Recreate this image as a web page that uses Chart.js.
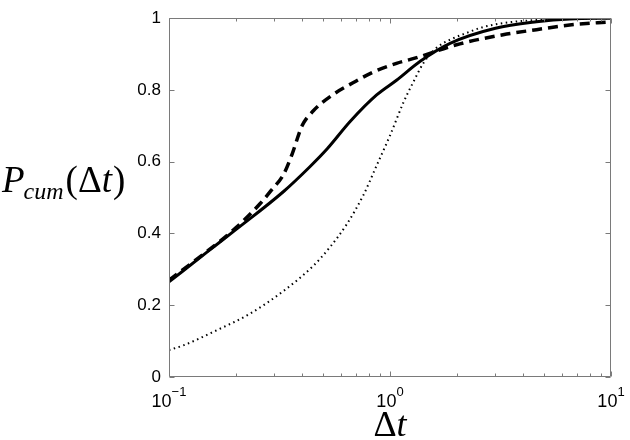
<!DOCTYPE html>
<html><head><meta charset="utf-8">
<script src="https://cdn.jsdelivr.net/npm/chart.js@4/dist/chart.umd.min.js"></script>
<style>html,body{margin:0;padding:0;background:#fff}#wrap{width:630px;height:440px;position:relative}</style>
</head><body><div id="wrap"><canvas id="c" width="630" height="440"></canvas></div>
<script>
// Solid curve
const solidX = [0.1, 0.15, 0.2, 0.33, 0.434, 0.52, 0.66, 0.87, 1.07, 1.37, 1.87, 3.0, 4.6, 6.5, 10];
const solidY = [0.265, 0.35, 0.41, 0.517, 0.586, 0.636, 0.712, 0.786, 0.827, 0.88, 0.93, 0.972, 0.99, 0.998, 1.0];
// Dashed curve
const dashX = [0.1, 0.15, 0.2, 0.26, 0.29, 0.33, 0.36, 0.40, 0.45, 0.555, 0.68, 0.84, 1.07, 1.32, 2.0, 3.25, 4.6, 6.5, 10];
const dashY = [0.27, 0.352, 0.415, 0.485, 0.52, 0.565, 0.62, 0.70, 0.742, 0.788, 0.82, 0.85, 0.874, 0.89, 0.926, 0.954, 0.968, 0.981, 0.99];
// Dotted curve
const dotX = [0.1, 0.116, 0.164, 0.232, 0.33, 0.45, 0.535, 0.636, 0.758, 0.871, 1.0, 1.15, 1.27, 1.42, 1.62, 1.87, 2.2, 2.63, 3.3, 5, 10];
const dotY = [0.075, 0.088, 0.13, 0.176, 0.24, 0.31, 0.362, 0.425, 0.507, 0.59, 0.673, 0.765, 0.82, 0.876, 0.917, 0.94, 0.958, 0.975, 0.987, 0.996, 1.0];

// Tick labels
const yTickValues = [0, 0.2, 0.4, 0.6, 0.8, 1];
const yTickLabels = ['0', '0.2', '0.4', '0.6', '0.8', '1'];
const xMajorValues = [0.1, 1, 10];
const xMajorBase = '10';
const xMajorExp = ['\u22121', '0', '1'];
const xMinorValues = [0.2,0.3,0.4,0.5,0.6,0.7,0.8,0.9,2,3,4,5,6,7,8,9];

function pts(xs, ys){ return xs.map((x,i)=>({x:x, y:ys[i]})); }

const AXIS = '#7a7a7a';
const SANS = '"Liberation Sans", Arial, sans-serif';
const SERIF = '"Liberation Serif", "DejaVu Serif", serif';

const decor = {
  id: 'decor',
  afterDraw(chart){
    const ctx = chart.ctx, a = chart.chartArea;
    const xs = chart.scales.x, ys = chart.scales.y;
    ctx.save();
    ctx.strokeStyle = AXIS; ctx.lineWidth = 1;
    const L = Math.round(a.left)+0.5, R = Math.round(a.right)-0.5, T = Math.round(a.top)+0.5, B = Math.round(a.bottom)-0.5;
    ctx.beginPath(); ctx.rect(L, T, R-L, B-T); ctx.stroke();
    ctx.beginPath();
    yTickValues.forEach(v=>{
      const y = Math.round(ys.getPixelForValue(v))+0.5;
      ctx.moveTo(L, y); ctx.lineTo(L+5, y);
      ctx.moveTo(R, y); ctx.lineTo(R-5, y);
    });
    xMajorValues.forEach(v=>{
      const x = Math.round(xs.getPixelForValue(v))+0.5;
      ctx.moveTo(x, B); ctx.lineTo(x, B-5);
      ctx.moveTo(x, T); ctx.lineTo(x, T+5);
    });
    xMinorValues.forEach(v=>{
      const x = Math.round(xs.getPixelForValue(v))+0.5;
      ctx.moveTo(x, B); ctx.lineTo(x, B-3);
      ctx.moveTo(x, T); ctx.lineTo(x, T+3);
    });
    ctx.stroke();

    // x tick labels 10^n
    ctx.fillStyle = '#000';
    ctx.textBaseline = 'alphabetic';
    ctx.textAlign = 'left';
    xMajorValues.forEach((v,i)=>{
      const x = xs.getPixelForValue(v);
      ctx.font = '18px ' + SANS;
      const wb = ctx.measureText(xMajorBase).width;
      ctx.font = '13px ' + SANS;
      const we = ctx.measureText(xMajorExp[i]).width;
      const x0 = x - (wb+we)/2;
      ctx.font = '18px ' + SANS;
      ctx.fillText(xMajorBase, x0, 407);
      ctx.font = '13px ' + SANS;
      ctx.fillText(xMajorExp[i], x0+wb, 396);
    });

    // x axis title
    ctx.font = '36px ' + SERIF;
    const wD = ctx.measureText('\u0394').width;
    ctx.font = 'italic 36px ' + SERIF;
    const wt = ctx.measureText('t').width;
    const cx = xs.getPixelForValue(1);
    let px = cx - (wD+wt)/2;
    ctx.font = '36px ' + SERIF; ctx.fillText('\u0394', px, 436);
    ctx.font = 'italic 36px ' + SERIF; ctx.fillText('t', px+wD, 436);

    // y axis title P_cum(Δt)
    const base = 192;
    px = 2;
    ctx.font = 'italic 37px ' + SERIF; ctx.fillText('P', px, base); px += ctx.measureText('P').width - 1;
    ctx.font = 'italic 24px ' + SERIF; ctx.fillText('cum', px, base+7); px += ctx.measureText('cum').width + 2;
    ctx.font = '37px ' + SERIF; ctx.fillText('(', px, base); px += ctx.measureText('(').width;
    ctx.fillText('\u0394', px, base); px += ctx.measureText('\u0394').width;
    ctx.font = 'italic 37px ' + SERIF; ctx.fillText('t', px, base); px += ctx.measureText('t').width + 1;
    ctx.font = '37px ' + SERIF; ctx.fillText(')', px, base);
    ctx.restore();
  }
};

new Chart(document.getElementById('c'), {
  type: 'line',
  data: {
    datasets: [
      { label: 'solid', data: pts(solidX, solidY), borderColor: '#000', borderWidth: 3, pointRadius: 0, cubicInterpolationMode: 'monotone', fill: false },
      { label: 'dashed', data: pts(dashX, dashY), borderColor: '#000', borderWidth: 3.5, borderDash: [10, 6], pointRadius: 0, cubicInterpolationMode: 'monotone', fill: false },
      { label: 'dotted', data: pts(dotX, dotY), borderColor: '#000', borderWidth: 2, borderDash: [1.5, 3.5], pointRadius: 0, cubicInterpolationMode: 'monotone', fill: false }
    ]
  },
  options: {
    responsive: false,
    devicePixelRatio: 1,
    animation: false,
    layout: { padding: { top: 15, right: 19, left: 0, bottom: 0 } },
    plugins: { legend: { display: false }, tooltip: { enabled: false } },
    scales: {
      x: {
        type: 'logarithmic', min: 0.1, max: 10,
        grid: { display: false }, border: { display: false },
        ticks: { display: false },
        afterFit(s){ s.height = 63; }
      },
      y: {
        type: 'linear', min: 0, max: 1,
        grid: { display: false, drawTicks: false }, border: { display: false },
        ticks: {
          stepSize: 0.2, padding: 8, color: '#000',
          font: { family: SANS, size: 17 },
          callback(v){ const i = Math.round(v*5); return yTickLabels[i]; }
        },
        afterFit(s){ s.width = 169; }
      }
    }
  },
  plugins: [decor]
});
</script>
</body></html>
